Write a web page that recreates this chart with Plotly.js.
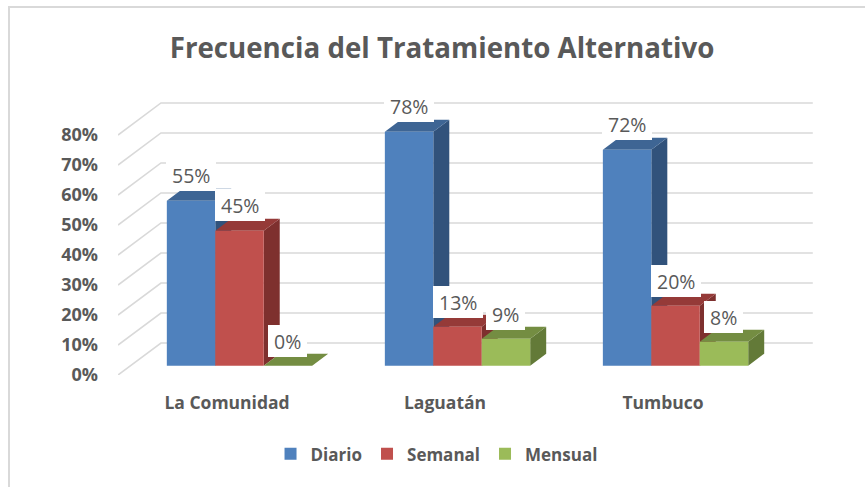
<!DOCTYPE html>
<html>
<head>
<meta charset="utf-8">
<script src="https://cdn.plot.ly/plotly-3.0.1.min.js"></script>
<style>
html,body{margin:0;padding:0;background:#fff;overflow:hidden}
#chart{position:absolute;left:0;top:0;width:865px;height:487px}
#frame{position:absolute;left:8px;top:6px;width:1000px;height:800px;border:2px solid #d9d9d9;pointer-events:none}
</style>
</head>
<body>
<div id="chart"></div>
<div id="frame"></div>
<script>
const titleText = 'Frecuencia del Tratamiento Alternativo';
const categories = ['La Comunidad', 'Laguatán', 'Tumbuco'];
const seriesNames = ['Diario', 'Semanal', 'Mensual'];
const diario = [55, 78, 72];
const semanal = [45, 13, 20];
const mensual = [0, 9, 8];
const yTicks = [0, 10, 20, 30, 40, 50, 60, 70, 80];

const seriesValues = [diario, semanal, mensual];
const frontColors = ['#4F81BD', '#C0504D', '#9BBB59'];
const sideColors = ['#31527B', '#7E302E', '#637A38'];
const topColors = ['#3E6594', '#953A38', '#748D42'];

const FONT = '"Open Sans", sans-serif';
const GRAY = '#595959';
const xRange = [-0.5, 2.697];
const yRange = [0, 93.33];
const wallDx = 0.197, wallDy = 10.67;     // wall depth in axis units
const planeDx = 0.0573, planeDy = 3.1;    // front plane of the bars
const barDx = 0.0734, barDy = 4;          // bar depth
const barW = 1 / 4.5 ;                    // width of one bar

const traces = [];
// back wall gridlines
yTicks.forEach(t => {
  traces.push({
    type: 'scatter', mode: 'lines', showlegend: false, hoverinfo: 'skip',
    x: [xRange[0], xRange[0] + wallDx, xRange[1] - 0.01],
    y: [t, t + wallDy, t + wallDy],
    line: {color: '#D9D9D9', width: 1.6}
  });
});
// depth faces: side first, then top, one series after the other
seriesNames.forEach((name, s) => {
  const side = {x: [], y: []}, top = {x: [], y: []};
  categories.forEach((c, i) => {
    const x0 = i + planeDx + (s - 1.5) * barW, x1 = x0 + barW;
    const b = planeDy, v = planeDy + seriesValues[s][i];
    side.x.push(x1, x1, x1 + barDx, x1 + barDx, x1, null);
    side.y.push(b, v, v + barDy, b + barDy, b, null);
    top.x.push(x0, x1, x1 + barDx, x0 + barDx, x0, null);
    top.y.push(v, v, v + barDy, v + barDy, v, null);
  });
  [[side, sideColors[s]], [top, topColors[s]]].forEach(([f, col]) => {
    traces.push({
      type: 'scatter', mode: 'none', fill: 'toself', fillcolor: col,
      showlegend: false, hoverinfo: 'skip', x: f.x, y: f.y
    });
  });
});
// front faces
seriesNames.forEach((name, s) => {
  traces.push({
    type: 'bar', name: name, xaxis: 'x2', yaxis: 'y2', hoverinfo: 'skip',
    x: categories.map((c, i) => i + planeDx),
    y: seriesValues[s],
    base: categories.map(() => planeDy),
    marker: {color: frontColors[s], line: {width: 0}}
  });
});

const annotations = [];
seriesNames.forEach((name, s) => {
  categories.forEach((c, i) => {
    const val = seriesValues[s][i];
    annotations.push({
      x: i + planeDx + (s - 1) * barW, y: planeDy + val + 8.4,
      xref: 'x', yref: 'y', showarrow: false,
      xanchor: 'center', yanchor: 'middle',
      text: val + '%', bgcolor: '#ffffff', borderpad: 6, borderwidth: 0, height: 20,
      font: {family: FONT, size: 19.5, color: GRAY}
    });
  });
});

const layout = {
  width: 865, height: 487,
  margin: {l: 118, r: 50, t: 95, b: 112},
  paper_bgcolor: '#ffffff', plot_bgcolor: 'rgba(0,0,0,0)',
  hovermode: false, barmode: 'group', bargap: 1 / 3, bargroupgap: 0,
  title: {
    text: titleText, x: 0.511, xanchor: 'center', y: 0.9, yanchor: 'middle',
    font: {family: FONT, size: 27.7, color: GRAY, weight: 700}
  },
  xaxis: {
    range: xRange, showgrid: false, zeroline: false, showline: false, ticks: '',
    tickmode: 'array', tickvals: categories.map((c, i) => i), ticktext: categories,
    ticklabelstandoff: 15, tickangle: 0,
    tickfont: {family: FONT, size: 17.5, color: GRAY, weight: 700}
  },
  yaxis: {
    range: yRange, showgrid: false, zeroline: false, showline: false, ticks: '',
    tickmode: 'array', tickvals: yTicks, ticktext: yTicks.map(t => t + '%'),
    ticklabelstandoff: 19,
    tickfont: {family: FONT, size: 18, color: GRAY, weight: 700}
  },
  xaxis2: {range: xRange, overlaying: 'x', anchor: 'y2', visible: false},
  yaxis2: {range: yRange, overlaying: 'y', anchor: 'x2', visible: false},
  showlegend: true,
  legend: {
    orientation: 'h', x: 0.457, xanchor: 'center', y: -0.219, yanchor: 'top',
    font: {family: FONT, size: 17, color: GRAY, weight: 700},
    bgcolor: 'rgba(0,0,0,0)', traceorder: 'normal'
  },
  annotations: annotations
};
Plotly.newPlot('chart', traces, layout, {displayModeBar: false, staticPlot: true});
</script>
</body>
</html>
